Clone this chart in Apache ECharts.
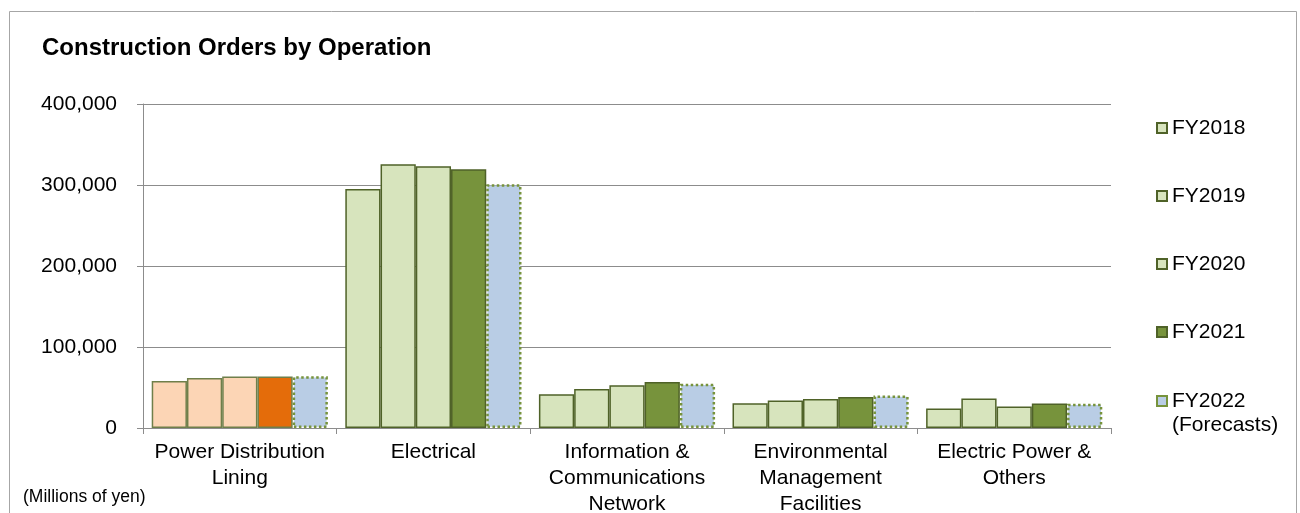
<!DOCTYPE html>
<html>
<head>
<meta charset="utf-8">
<title>Construction Orders by Operation</title>
<script src="https://cdn.jsdelivr.net/npm/echarts@6/dist/echarts.min.js"></script>
<style>
  html, body { margin: 0; padding: 0; background: #fff; overflow: hidden; }
  #chart { width: 1300px; height: 513px; }
</style>
</head>
<body>
<div id="chart"></div>
<script>
// Construction orders by operation, millions of yen
const categories = [
  'Power Distribution\nLining',
  'Electrical',
  'Information &\nCommunications\nNetwork',
  'Environmental\nManagement\nFacilities',
  'Electric Power &\nOthers'
];
const seriesNames = ['FY2018', 'FY2019', 'FY2020', 'FY2021', 'FY2022'];
const forecastNote = '(Forecasts)';
const fy2018 = [58000, 295000, 41600, 30500, 24000];
const fy2019 = [61700, 325500, 48100, 33800, 36300];
const fy2020 = [63500, 323000, 52700, 35800, 26400];
const fy2021 = [63500, 319400, 56800, 38300, 30100];
const fy2022 = [64000, 301000, 54500, 40000, 30000];
const yTicks = [0, 100000, 200000, 300000, 400000];

const FONT = '"Liberation Sans", Arial, sans-serif';
const GRID_GREY = '#8c8c8c';

// palette
const LIGHT_GREEN = '#d7e4bd';
const DARK_GREEN = '#77933c';
const OLIVE_EDGE = '#4f6228';
const PEACH = '#fcd5b5';
const ORANGE = '#e46c0a';
const SKY = '#b9cde5';

// The power-distribution group is highlighted in orange tones
function withFirstHighlight(values, color, edge) {
  return values.map((v, i) => i === 0
    ? { value: v, itemStyle: { color: color, borderColor: edge } }
    : v);
}

function pastSeries(name, values, fill, firstFill) {
  return {
    name: name,
    type: 'bar',
    barGap: '0%',
    barCategoryGap: '9%',
    data: withFirstHighlight(values, firstFill, '#6f7f4a'),
    itemStyle: { color: fill, borderColor: OLIVE_EDGE, borderWidth: 1.5 }
  };
}

const legendText = { fontFamily: FONT, fontSize: 21, color: '#000', lineHeight: 26 };

const chart = echarts.init(document.getElementById('chart'), null, { renderer: 'canvas' });

chart.setOption({
  animation: false,
  backgroundColor: '#ffffff',
  textStyle: { fontFamily: FONT },
  title: {
    text: 'Construction Orders by Operation',
    left: 42,
    top: 36,
    padding: 0,
    textStyle: { fontFamily: FONT, fontSize: 24, fontWeight: 'bold', color: '#000' }
  },
  legend: [
    {
      orient: 'vertical',
      left: 1156,
      top: 115,
      itemWidth: 10,
      itemHeight: 10,
      itemGap: 42,
      padding: 0,
      icon: 'rect',
      textStyle: legendText,
      data: seriesNames.slice(0, 4)
    },
    {
      orient: 'vertical',
      left: 1156,
      top: 388,
      itemWidth: 10,
      itemHeight: 10,
      padding: 0,
      icon: 'rect',
      textStyle: legendText,
      data: seriesNames.slice(4)
    }
  ],
  grid: {
    left: 143, right: 189, top: 104, bottom: 85,
    containLabel: false,
    outerBoundsMode: 'none'
  },
  xAxis: {
    type: 'category',
    data: categories,
    axisLine: { show: true, lineStyle: { color: GRID_GREY, width: 1 } },
    axisTick: { show: true, length: 6, lineStyle: { color: GRID_GREY } },
    axisLabel: {
      interval: 0,
      margin: 11,
      fontFamily: FONT,
      fontSize: 21,
      lineHeight: 26,
      color: '#000'
    }
  },
  yAxis: {
    type: 'value',
    min: yTicks[0],
    max: yTicks[yTicks.length - 1],
    interval: yTicks[1] - yTicks[0],
    axisLine: { show: true, lineStyle: { color: GRID_GREY, width: 1 } },
    axisTick: { show: true, length: 6, lineStyle: { color: GRID_GREY } },
    splitLine: { show: true, lineStyle: { color: GRID_GREY, width: 1 } },
    axisLabel: {
      margin: 26,
      fontFamily: FONT,
      fontSize: 21,
      color: '#000',
      formatter: v => v.toLocaleString('en-US')
    }
  },
  series: [
    pastSeries(seriesNames[0], fy2018, LIGHT_GREEN, PEACH),
    pastSeries(seriesNames[1], fy2019, LIGHT_GREEN, PEACH),
    pastSeries(seriesNames[2], fy2020, LIGHT_GREEN, PEACH),
    pastSeries(seriesNames[3], fy2021, DARK_GREEN, ORANGE),
    {
      name: seriesNames[4],
      type: 'bar',
      barGap: '0%',
      barCategoryGap: '9%',
      data: fy2022,
      itemStyle: {
        color: SKY,
        borderColor: DARK_GREEN,
        borderWidth: 2.5,
        borderType: 'dotted'
      }
    }
  ],
  graphic: [
    {
      type: 'rect',
      silent: true,
      shape: { x: 9.5, y: 11.5, width: 1287, height: 520 },
      style: { fill: null, stroke: '#a6a6a6', lineWidth: 1 }
    },
    {
      // second line of the forecast legend entry
      type: 'text',
      silent: true,
      x: 1172,
      y: 425,
      style: { text: forecastNote, font: '21px ' + FONT, fill: '#000', verticalAlign: 'middle' }
    },
    {
      type: 'text',
      silent: true,
      x: 23,
      y: 497,
      style: { text: '(Millions of yen)', font: '17.5px ' + FONT, fill: '#000', verticalAlign: 'middle' }
    }
  ]
});
</script>
</body>
</html>
